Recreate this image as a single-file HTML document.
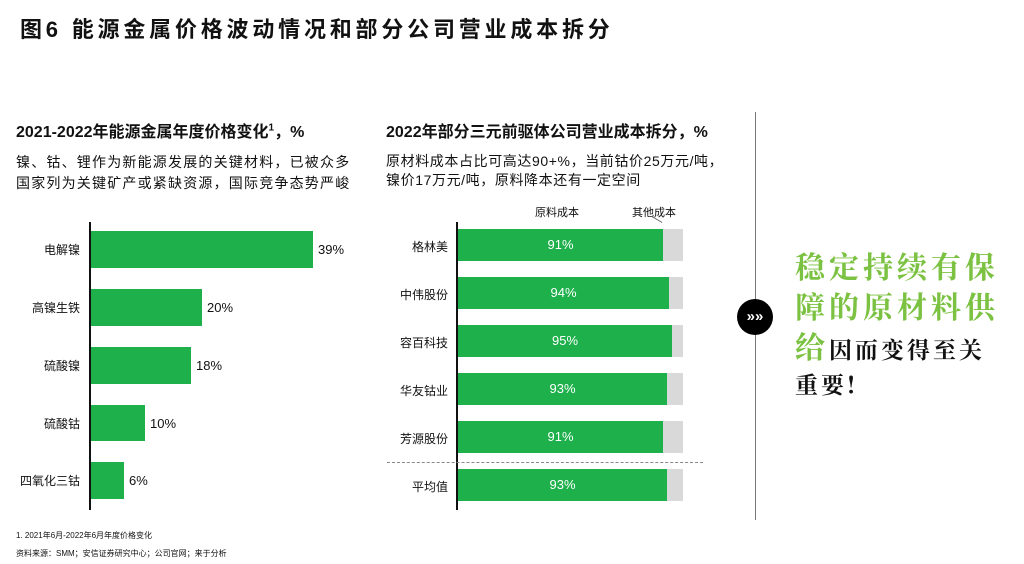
<!DOCTYPE html><html><head><meta charset="utf-8"><style>
body{margin:0;width:1024px;height:564px;background:#fff;position:relative;overflow:hidden;font-family:"Liberation Sans","Noto Sans CJK SC",sans-serif;color:#111}
div{position:absolute}
.g{background:#1db04b}
.gr{background:#d9d9d9}
.l{font-size:12px;text-align:right;width:80px}
.v{font-size:13px}
.bv{font-size:13px;color:#fff;text-align:center}
</style></head><body>
<div style="left:20px;top:12px;font-size:22px;font-weight:bold;letter-spacing:3.8px">图6 能源金属价格波动情况和部分公司营业成本拆分</div>
<div style="left:16px;top:118px;font-size:16px;font-weight:bold">2021-2022年能源金属年度价格变化<sup style="font-size:10px">1</sup>，%</div>
<div style="left:16px;top:152px;font-size:14px;line-height:21px;letter-spacing:1.2px">镍、钴、锂作为新能源发展的关键材料，已被众多<br>国家列为关键矿产或紧缺资源，国际竞争态势严峻</div>
<div style="left:89px;top:222px;width:2px;height:288px;background:#111"></div>
<div class="g" style="left:91px;top:231px;width:222px;height:37px"></div>
<div class="g" style="left:91px;top:289px;width:111px;height:37px"></div>
<div class="g" style="left:91px;top:347px;width:100px;height:37px"></div>
<div class="g" style="left:91px;top:405px;width:54px;height:36px"></div>
<div class="g" style="left:91px;top:462px;width:33px;height:37px"></div>
<div class="l" style="left:0;top:241px">电解镍</div>
<div class="l" style="left:0;top:299px">高镍生铁</div>
<div class="l" style="left:0;top:357px">硫酸镍</div>
<div class="l" style="left:0;top:415px">硫酸钴</div>
<div class="l" style="left:0;top:472px">四氧化三钴</div>
<div class="v" style="left:318px;top:242px">39%</div>
<div class="v" style="left:207px;top:300px">20%</div>
<div class="v" style="left:196px;top:358px">18%</div>
<div class="v" style="left:150px;top:416px">10%</div>
<div class="v" style="left:129px;top:473px">6%</div>
<div style="left:386px;top:118px;font-size:16px;font-weight:bold">2022年部分三元前驱体公司营业成本拆分，%</div>
<div style="left:386px;top:152px;font-size:14px;line-height:19px;letter-spacing:.6px">原材料成本占比可高达90+%，当前钴价25万元/吨，<br>镍价17万元/吨，原料降本还有一定空间</div>
<div style="left:535px;top:204px;font-size:11px">原料成本</div>
<div style="left:632px;top:204px;font-size:11px">其他成本</div>
<div style="left:651px;top:219px;width:12px;height:1px;background:#666;transform:rotate(30deg)"></div>
<div style="left:456px;top:222px;width:2px;height:288px;background:#111"></div>
<div style="left:387px;top:462px;width:316px;border-top:1.5px dashed #888"></div>
<div class="g" style="left:458px;top:229px;width:205px;height:32px"></div><div class="gr" style="left:663px;top:229px;width:20px;height:32px"></div>
<div class="g" style="left:458px;top:277px;width:211px;height:32px"></div><div class="gr" style="left:669px;top:277px;width:14px;height:32px"></div>
<div class="g" style="left:458px;top:325px;width:214px;height:32px"></div><div class="gr" style="left:672px;top:325px;width:11px;height:32px"></div>
<div class="g" style="left:458px;top:373px;width:209px;height:32px"></div><div class="gr" style="left:667px;top:373px;width:16px;height:32px"></div>
<div class="g" style="left:458px;top:421px;width:205px;height:32px"></div><div class="gr" style="left:663px;top:421px;width:20px;height:32px"></div>
<div class="g" style="left:458px;top:469px;width:209px;height:32px"></div><div class="gr" style="left:667px;top:469px;width:16px;height:32px"></div>
<div class="l" style="left:368px;top:238px;width:80px">格林美</div>
<div class="l" style="left:368px;top:286px">中伟股份</div>
<div class="l" style="left:368px;top:334px">容百科技</div>
<div class="l" style="left:368px;top:382px">华友钴业</div>
<div class="l" style="left:368px;top:430px">芳源股份</div>
<div class="l" style="left:368px;top:478px">平均值</div>
<div class="bv" style="left:458px;width:205px;top:237px">91%</div>
<div class="bv" style="left:458px;width:211px;top:285px">94%</div>
<div class="bv" style="left:458px;width:214px;top:333px">95%</div>
<div class="bv" style="left:458px;width:209px;top:381px">93%</div>
<div class="bv" style="left:458px;width:205px;top:429px">91%</div>
<div class="bv" style="left:458px;width:209px;top:477px">93%</div>
<div style="left:755px;top:112px;width:1px;height:408px;background:#777"></div>
<div style="left:737px;top:299px;width:36px;height:36px;border-radius:50%;background:#000;color:#fff;font-size:15px;font-weight:bold;text-align:center;line-height:35px">»»</div>
<div style="left:795px;top:245px;font-size:30px;line-height:40px;color:#7cc242;font-weight:bold;font-family:'Noto Serif CJK SC',serif;letter-spacing:4px;width:230px">稳定持续有保<br>障的原材料供<br>给<span style="color:#111;font-size:23px;letter-spacing:3px">因而变得至关</span></div>
<div style="left:795px;top:367px;font-size:23px;font-weight:bold;font-family:'Noto Serif CJK SC',serif;letter-spacing:3px">重要!</div>
<div style="left:16px;top:530px;font-size:8px">1. 2021年6月-2022年6月年度价格变化</div>
<div style="left:16px;top:548px;font-size:8px">资料来源：SMM；安信证券研究中心；公司官网；来于分析</div>
</body></html>
